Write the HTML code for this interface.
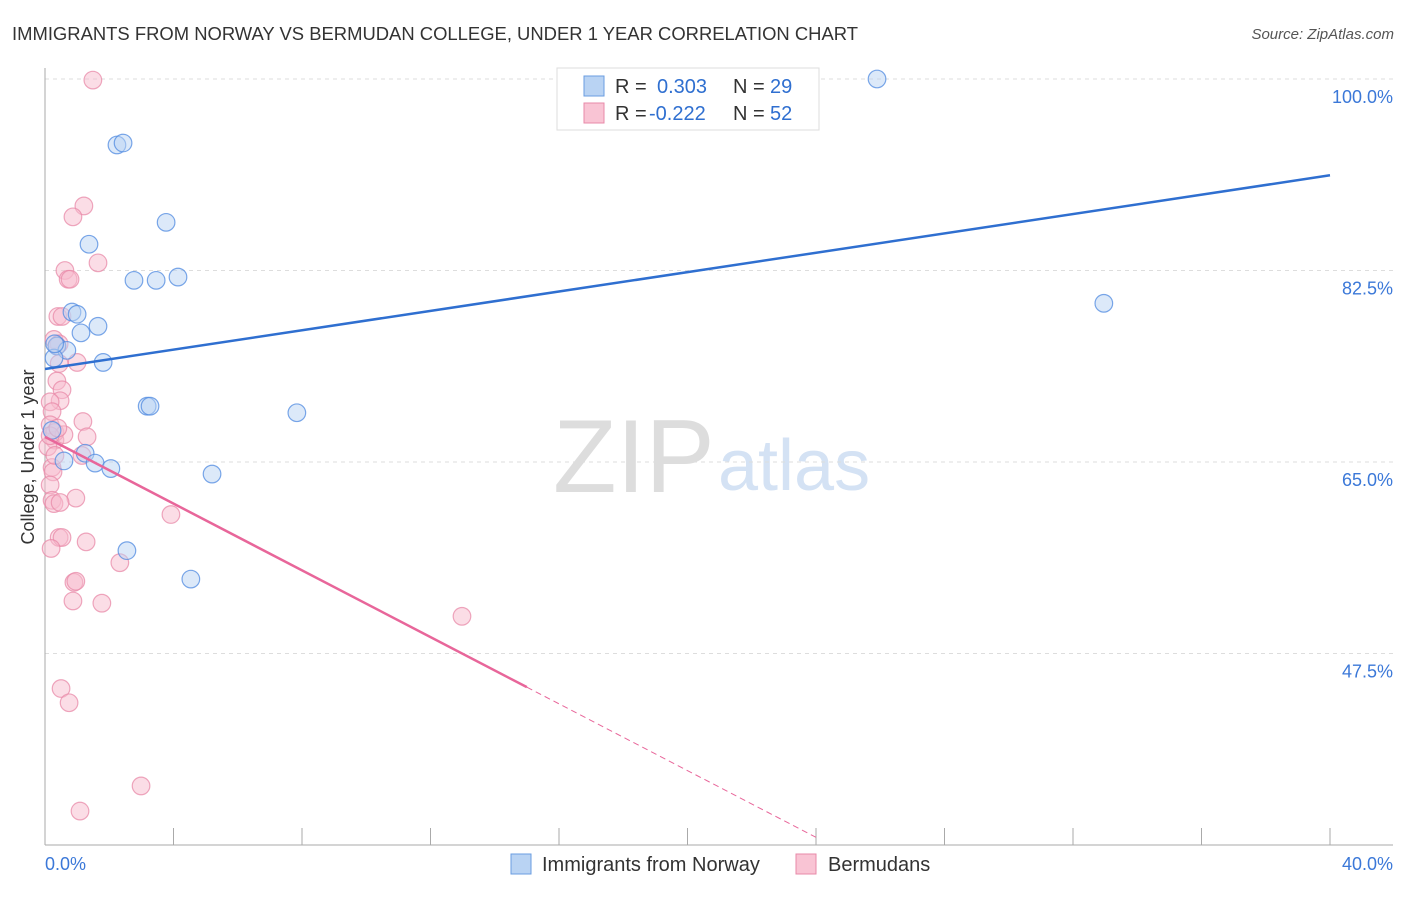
<!DOCTYPE html>
<html><head><meta charset="utf-8"><style>
body{margin:0;background:#fff;font-family:"Liberation Sans",sans-serif}
svg text{font-family:"Liberation Sans",sans-serif}
</style></head><body>
<svg id="c" width="1406" height="892">
<text x="12" y="40" font-size="18.5" fill="#333" textLength="846" lengthAdjust="spacingAndGlyphs">IMMIGRANTS FROM NORWAY VS BERMUDAN COLLEGE, UNDER 1 YEAR CORRELATION CHART</text>
<text x="1394" y="39" font-size="15" fill="#555" font-style="italic" text-anchor="end">Source: ZipAtlas.com</text>
<text x="553" y="492" font-size="104" fill="#ddd" font-family="Liberation Serif">ZIP</text>
<text x="718" y="490" font-size="72" fill="#d4e2f4">atlas</text>
<text transform="translate(34,457) rotate(-90)" font-size="18" fill="#333" text-anchor="middle">College, Under 1 year</text>
<g id="grid"></g><g id="marks"></g>
<rect x="557" y="68" width="262" height="62" fill="#fff" stroke="#ddd"/>
<rect x="584" y="76" width="20" height="20" fill="#b9d3f3" stroke="#6a9de0"/>
<rect x="584" y="103" width="20" height="20" fill="#f9c4d4" stroke="#e88aa8"/>
<text y="93" font-size="20" fill="#333"><tspan x="615">R =</tspan><tspan x="657" fill="#2f6fd0">0.303</tspan><tspan x="733">N =</tspan><tspan x="770" fill="#2f6fd0">29</tspan></text>
<text y="120" font-size="20" fill="#333"><tspan x="615">R =</tspan><tspan x="649" fill="#2f6fd0">-0.222</tspan><tspan x="733">N =</tspan><tspan x="770" fill="#2f6fd0">52</tspan></text>
<rect x="511" y="854" width="20" height="20" fill="#b9d3f3" stroke="#6a9de0"/>
<text x="542" y="871" font-size="20" fill="#333">Immigrants from Norway</text>
<rect x="796" y="854" width="20" height="20" fill="#f9c4d4" stroke="#e88aa8"/>
<text x="828" y="871" font-size="20" fill="#333">Bermudans</text>
</svg>
<script>
const yTicks=[100,82.5,65,47.5];
const yTickLabels=["100.0%","82.5%","65.0%","47.5%"];
const xEndLabels=["0.0%","40.0%"];
const norwayX=[2.24,2.43,3.77,1.37,2.77,3.46,4.14,0.84,1.0,1.65,1.12,0.37,0.68,0.28,1.81,3.18,3.27,7.84,25.9,32.96,0.59,1.25,1.56,2.05,5.2,2.55,4.54,0.22,0.3];
const norwayY=[93.97,94.15,86.9,84.9,81.6,81.6,81.9,78.7,78.5,77.4,76.8,75.6,75.2,74.5,74.1,70.1,70.1,69.5,100,79.5,65.1,65.8,64.9,64.4,63.9,56.9,54.3,67.9,75.8];
const bermX=[1.49,1.21,0.87,0.62,0.72,0.78,1.65,0.40,0.53,0.28,0.44,1.0,0.44,0.37,0.53,0.47,0.16,1.18,1.31,0.22,0.16,0.31,0.09,0.31,0.22,0.25,0.16,0.22,0.96,0.28,0.47,1.28,0.44,0.53,0.19,2.33,3.92,12.98,0.90,0.96,0.87,1.77,0.50,0.75,2.99,1.09,0.37,0.31,0.59,1.15,0.16,0.4];
const bermY=[99.9,88.4,87.4,82.5,81.7,81.7,83.2,78.3,78.3,76.2,75.8,74.1,74.0,72.4,71.6,70.6,70.5,68.7,67.3,69.6,68.4,67.0,66.4,67.7,64.5,64.1,62.9,61.5,61.7,61.2,61.3,57.7,58.1,58.1,57.1,55.8,60.2,50.9,54.0,54.1,52.3,52.1,44.3,43.0,35.4,33.1,75.6,65.6,67.5,65.6,67.4,68.1];
const norwayTrend=[73.5,91.2];
const bermTrend=[67.3,6.3];
const bermSolidEnd=15;
const X=v=>45+v*32.125, Y=v=>79+(100-v)*10.943;
const ns="http://www.w3.org/2000/svg";
function mk(p,t,a){const e=document.createElementNS(ns,t);for(const k in a)e.setAttribute(k,a[k]);p.appendChild(e);return e;}
const g=document.getElementById('grid'),m=document.getElementById('marks');
yTicks.forEach((t,i)=>{
 const l=mk(g,'line',{x1:45,x2:1393,y1:Y(t),y2:Y(t),stroke:'#ddd','stroke-dasharray':'4,4'});
 
 
 const tx=mk(g,'text',{x:1393,y:Y(t)+24,'font-size':18,fill:'#3b78d8','text-anchor':'end'});
 tx.textContent=yTickLabels[i];
 
 
});
const ax=mk(g,'line',{x1:45,x2:45,y1:68,y2:845,stroke:'#aaa'});


const bx=mk(g,'line',{x1:45,x2:1393,y1:845,y2:845,stroke:'#aaa'});


for(let i=0;i<=10;i++){const t=mk(g,'line',{x1:X(i*4),x2:X(i*4),y1:828,y2:845,stroke:'#aaa'});
 
 }
[[0,'start',45],[40,'end',1393]].forEach((d,i)=>{const t=mk(g,'text',{x:d[2],y:870,'font-size':18,fill:'#3b78d8','text-anchor':d[1]});t.textContent=xEndLabels[i];
 
 });
function dots(xs,ys,fill,stroke,name){xs.forEach((x,i)=>{const c=mk(m,'circle',{cx:X(x),cy:Y(ys[i]),r:8.8,fill:fill,'fill-opacity':0.5,stroke:stroke,'stroke-opacity':0.75,'stroke-width':1.2});
 
 });}
dots(bermX,bermY,'#f7bccd','#e88aa8','bermudan-point');
dots(norwayX,norwayY,'#b9d3f3','#4f8ae0','norway-point');
const nl=mk(m,'line',{x1:X(0),y1:Y(norwayTrend[0]),x2:X(40),y2:Y(norwayTrend[1]),stroke:'#2f6fd0','stroke-width':2.5});


const by=x=>bermTrend[0]+(bermTrend[1]-bermTrend[0])*x/40;
const bl=mk(m,'line',{x1:X(0),y1:Y(bermTrend[0]),x2:X(bermSolidEnd),y2:Y(by(bermSolidEnd)),stroke:'#e8669a','stroke-width':2.5});


const xe=24;
const bd=mk(m,'line',{x1:X(bermSolidEnd),y1:Y(by(bermSolidEnd)),x2:X(xe),y2:Y(by(xe)),stroke:'#e8669a','stroke-width':1,'stroke-dasharray':'6,4'});


</script>
</body></html>
